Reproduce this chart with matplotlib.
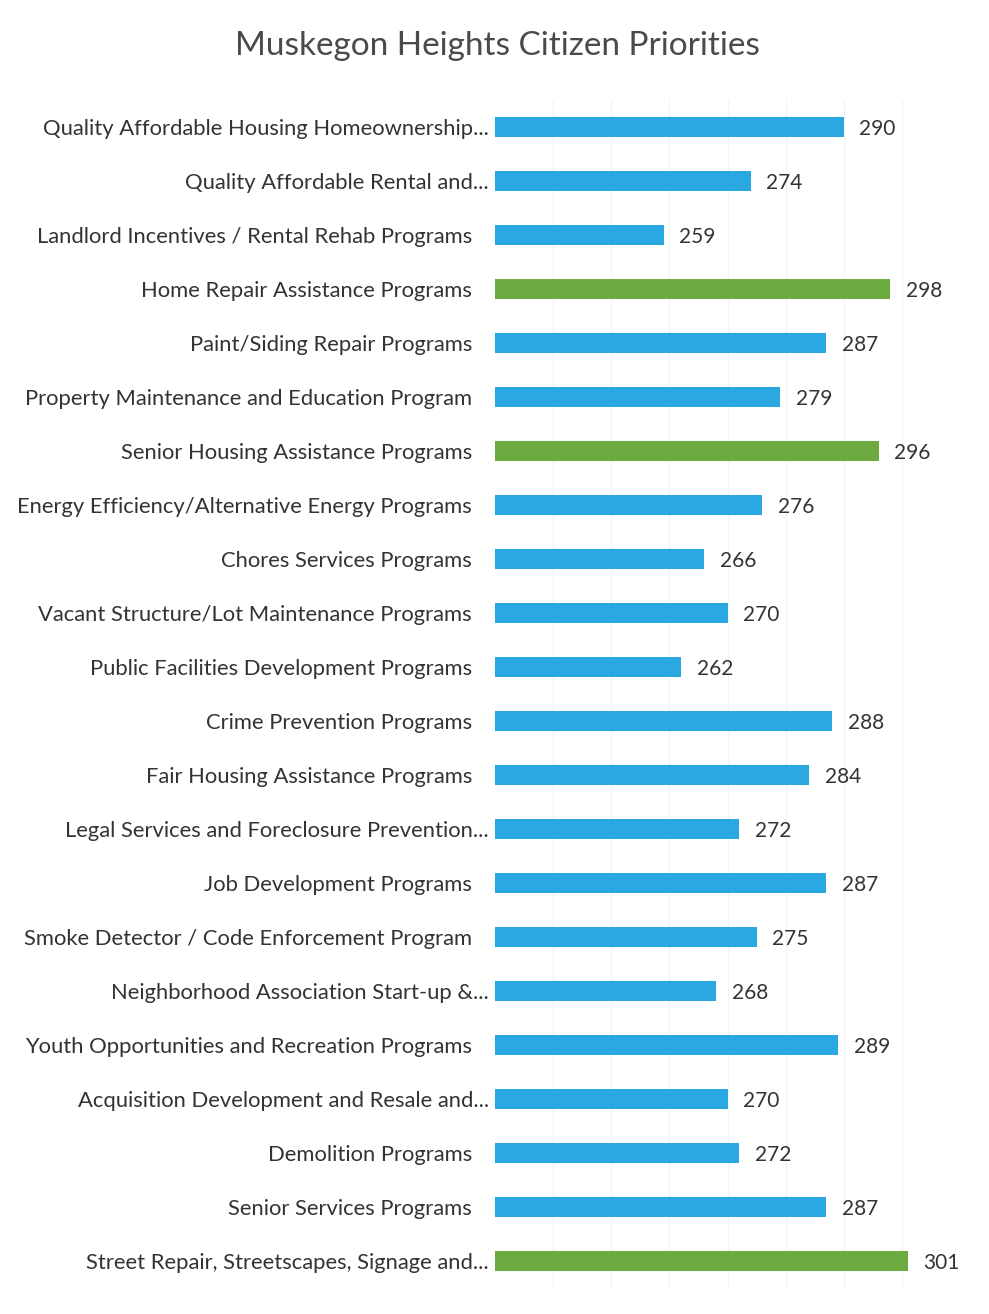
import matplotlib.pyplot as plt
import matplotlib.transforms as mtransforms
import numpy as np

plt.rcParams['font.family'] = ['Lato', 'DejaVu Sans']

# programs, top to bottom as in the picture
labels = [
    'Quality Affordable Housing Homeownership...',
    'Quality Affordable Rental and...',
    'Landlord Incentives / Rental Rehab Programs',
    'Home Repair Assistance Programs',
    'Paint/Siding Repair Programs',
    'Property Maintenance and Education Program',
    'Senior Housing Assistance Programs',
    'Energy Efficiency/Alternative Energy Programs',
    'Chores Services Programs',
    'Vacant Structure/Lot Maintenance Programs',
    'Public Facilities Development Programs',
    'Crime Prevention Programs',
    'Fair Housing Assistance Programs',
    'Legal Services and Foreclosure Prevention...',
    'Job Development Programs',
    'Smoke Detector / Code Enforcement Program',
    'Neighborhood Association Start-up &...',
    'Youth Opportunities and Recreation Programs',
    'Acquisition Development and Resale and...',
    'Demolition Programs',
    'Senior Services Programs',
    'Street Repair, Streetscapes, Signage and...',
]
votes = [290, 274, 259, 298, 287, 279, 296, 276, 266, 270, 262,
         288, 284, 272, 287, 275, 268, 289, 270, 272, 287, 301]
top_three = [3, 6, 21]

blue = '#2aa8e2'
green = '#6daa3f'
colors = [green if i in top_three else blue for i in range(len(votes))]

fig = plt.figure(figsize=(9.89, 13.14), dpi=100)
ax = fig.add_axes([495 / 989, 1 - 1288 / 1314, (960 - 495) / 989, (1288 - 100) / 1314])

y = np.arange(len(votes))
base = 230
ax.barh(y, np.array(votes) - base, left=base, height=0.36, color=colors,
        edgecolor='none', zorder=2)
for yi, v in zip(y, votes):
    ax.text(v + 2.7, yi, str(v), va='center_baseline', ha='left', fontsize=15,
            color='#333333')

ax.set_xlim(230, 310)
ax.set_ylim(len(votes) - 0.5, -0.5)
ax.set_xticks(np.arange(240, 311, 10))
ax.xaxis.grid(True, color='#f2f2f2', linewidth=0.8, zorder=0)
ax.tick_params(axis='x', length=0, labelbottom=False)
ax.set_yticks(y)
ax.set_yticklabels(labels, fontsize=15.8, color='#333333')
ax.tick_params(axis='y', length=0, pad=16.5)
# truncated labels sit closer to the bars
shift = mtransforms.ScaledTranslation(17 / 100, 0, fig.dpi_scale_trans)
for lab in ax.get_yticklabels():
    if lab.get_text().endswith('...'):
        lab.set_transform(lab.get_transform() + shift)
for s in ax.spines.values():
    s.set_visible(False)

fig.text(497 / 989, 1 - 46 / 1314, 'Muskegon Heights Citizen Priorities',
         ha='center', va='center', fontsize=24, color='#4a4a4a', fontweight='normal')

fig.savefig('out.png', dpi=100)
